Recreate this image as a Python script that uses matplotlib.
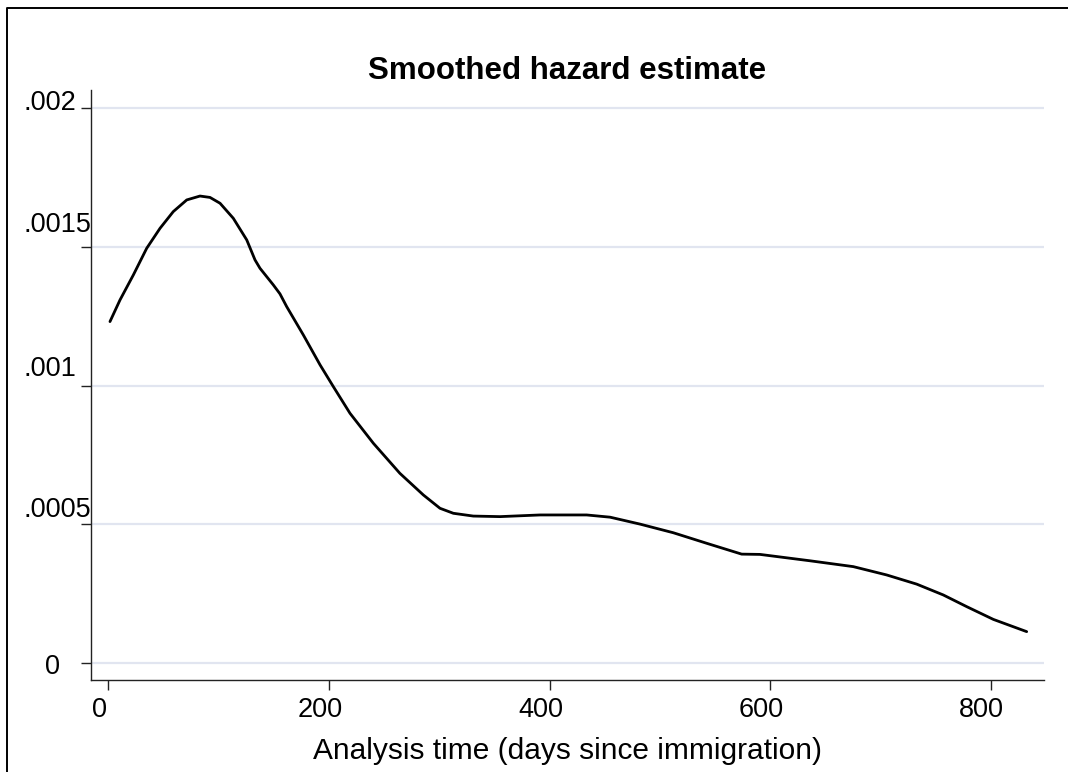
import matplotlib
matplotlib.use("Agg")
import matplotlib.pyplot as plt
import matplotlib.transforms as mtransforms
from matplotlib.lines import Line2D

plt.rcParams['font.family'] = ['Liberation Sans', 'DejaVu Sans']

# ---- data ----
analysis_time = [1.5, 10.6, 22.7, 34.8, 46.9, 58.9, 71.1, 83.1, 92.2, 101.3,
                 113.3, 125.5, 133.0, 137.5, 149.6, 155.6, 161.7, 176.8, 192.0,
                 204.0, 219.1, 240.3, 264.3, 285.6, 300.7, 312.8, 330.9, 355.1,
                 391.4, 433.7, 454.9, 482.1, 512.2, 542.5, 574.2, 590.8, 636.2,
                 675.4, 705.7, 732.9, 757.0, 778.2, 802.4, 832.6]
hazard = [0.001230, 0.001308, 0.001398, 0.001494, 0.001566, 0.001626, 0.001668,
          0.001682, 0.001677, 0.001656, 0.001602, 0.001524, 0.001452, 0.001422,
          0.001362, 0.001330, 0.001284, 0.001182, 0.001074, 0.000996, 0.000900,
          0.000792, 0.000684, 0.000606, 0.000558, 0.000540, 0.000530, 0.000528,
          0.000534, 0.000534, 0.000526, 0.000501, 0.000470, 0.000432, 0.000393,
          0.000392, 0.000369, 0.000348, 0.000318, 0.000285, 0.000246, 0.000204,
          0.000158, 0.000114]

y_ticks = [0, 0.0005, 0.001, 0.0015, 0.002]
y_tick_labels = ['0', '.0005', '.001', '.0015', '.002']
x_ticks = [0, 200, 400, 600, 800]
x_tick_labels = ['0', '200', '400', '600', '800']
title = 'Smoothed hazard estimate'
x_label = 'Analysis time (days since immigration)'

# ---- layout ----
W, H, DPI = 1068, 772, 100
fig = plt.figure(figsize=(W / DPI, H / DPI), dpi=DPI)
fig.patch.set_facecolor('white')

ax_l, ax_r, ax_t, ax_b = 91, 1044, 90, 680
ax = fig.add_axes([ax_l / W, 1 - ax_b / H, (ax_r - ax_l) / W, (ax_b - ax_t) / H])

ax.plot(analysis_time, hazard, color='black', lw=2.0, solid_joinstyle='round',
        solid_capstyle='round', zorder=3)

ax.set_xlim(-15.7, 848.3)
ax.set_ylim(-0.0000601, 0.0020637)

for s in ['top', 'right']:
    ax.spines[s].set_visible(False)
for s in ['left', 'bottom']:
    ax.spines[s].set_linewidth(1.0)
    ax.spines[s].set_color('#222222')

ax.set_yticks(y_ticks)
ax.set_yticklabels([])
ax.tick_params(axis='y', length=7.2, width=1.0, color='#222222', labelleft=False)
ax.yaxis.grid(True, color='#e1e5f0', lw=1.6)
ax.xaxis.grid(False)
ax.set_axisbelow(True)

ax.set_xticks(x_ticks)
ax.set_xticklabels(x_tick_labels, fontsize=19.5)
ax.tick_params(axis='x', length=7.5, width=1.0, color='#222222', pad=5)
shift = mtransforms.ScaledTranslation(-9 / DPI, 0, fig.dpi_scale_trans)
for lab in ax.get_xticklabels():
    lab.set_transform(lab.get_transform() + shift)

# y tick labels (Stata-like placement)
ylab_left_px = [45, 24, 24, 24, 24]
ylab_baseline_dy_px = [10.7, -7, -9.5, -14.7, 2.3]
bt = mtransforms.blended_transform_factory(fig.transFigure, ax.transData)
for v, s, lx, dy in zip(y_ticks, y_tick_labels, ylab_left_px, ylab_baseline_dy_px):
    tr = bt + mtransforms.ScaledTranslation(0, -dy / DPI, fig.dpi_scale_trans)
    ax.text(lx / W, v, s, transform=tr, ha='left', va='baseline', fontsize=19.5,
            clip_on=False)

ax.set_xlabel(x_label, fontsize=21.5, labelpad=10)

fig.text((ax_l + ax_r) / 2 / W, 1 - 79 / H, title, ha='center', va='baseline',
         fontsize=22.5, fontweight='bold')

# outer frame (top and left edges visible)
fig.add_artist(Line2D([6.5 / W, 6.5 / W, 1.0], [0.0, 1 - 8.3 / H, 1 - 8.3 / H],
                      transform=fig.transFigure, color='black', lw=1.4))

fig.savefig('out.png', dpi=DPI, facecolor='white')
